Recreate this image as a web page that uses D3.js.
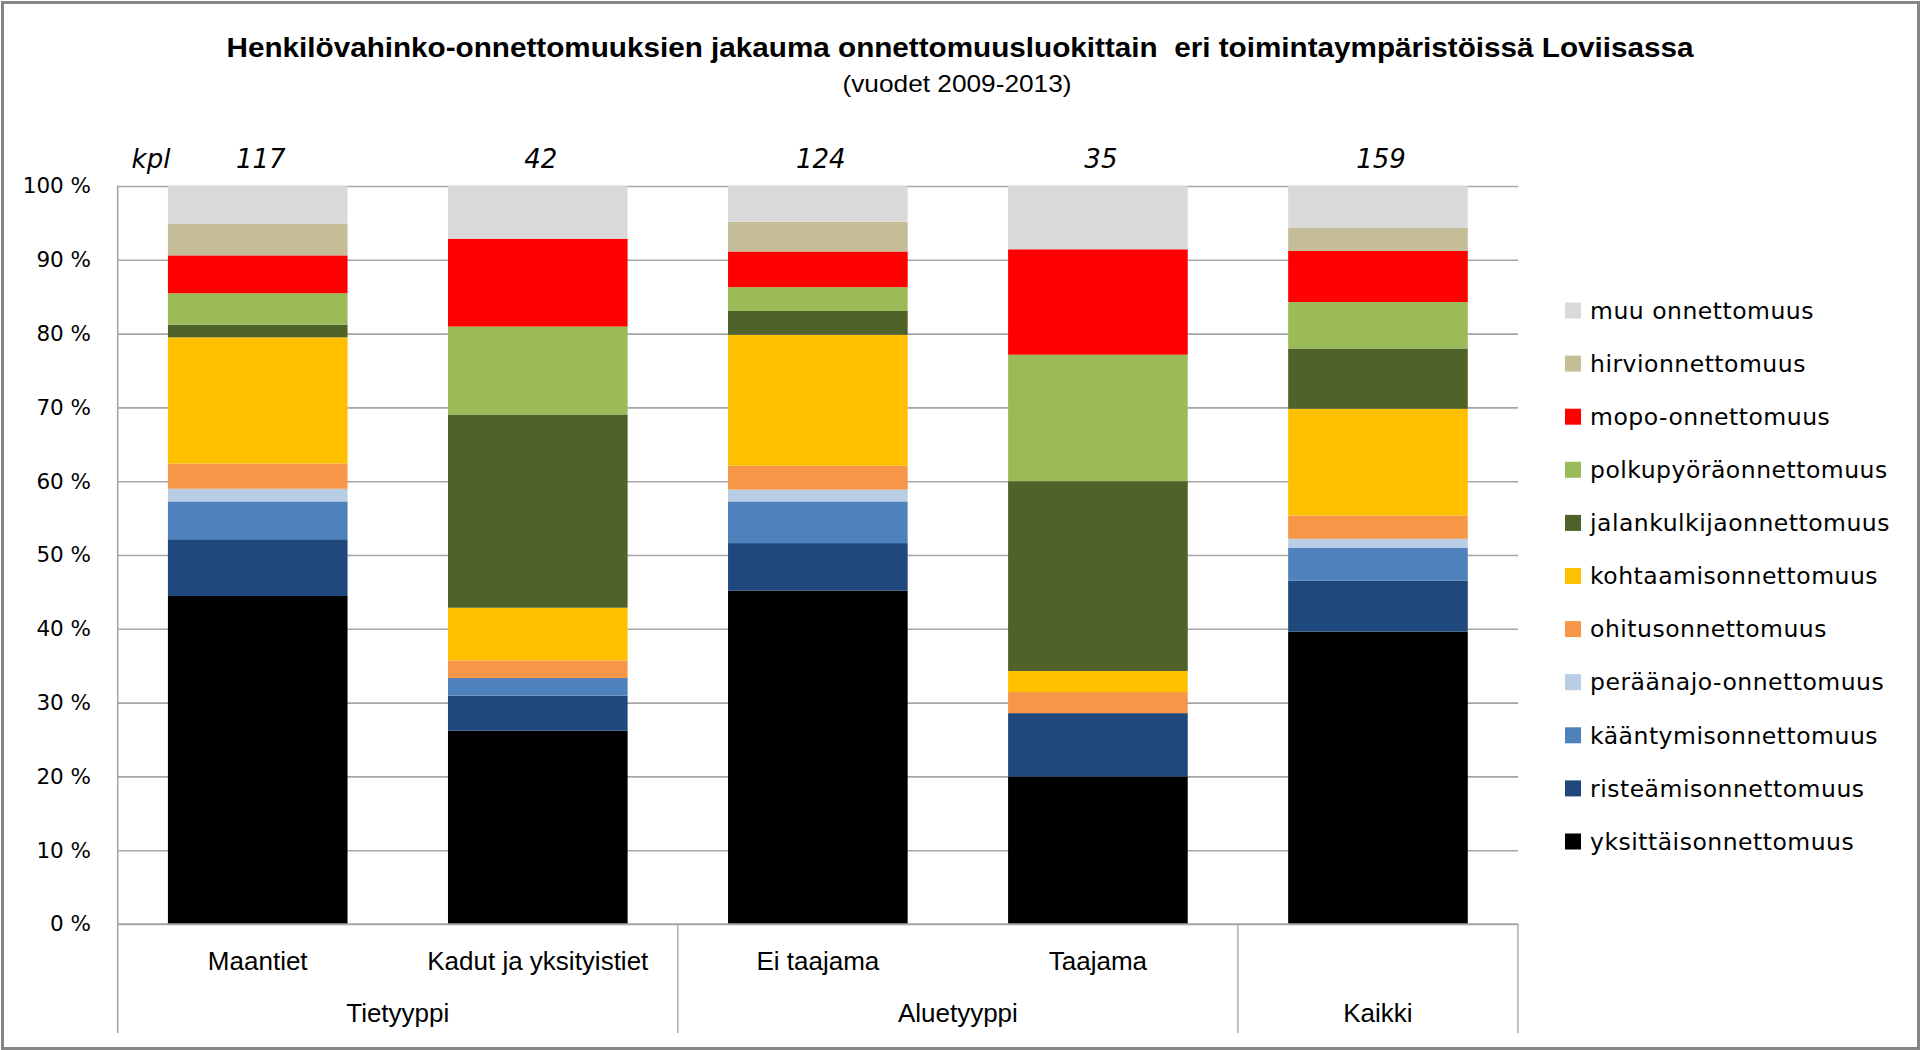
<!DOCTYPE html>
<html>
<head>
<meta charset="utf-8">
<script src="https://cdn.jsdelivr.net/npm/d3@7"></script>
<style>
  html, body { margin: 0; padding: 0; background: #ffffff; overflow: hidden; }
  svg { display: block; }
</style>
</head>
<body>
<svg id="chart" width="1920" height="1050"></svg>
<script>
// ---------------- DATA ----------------
const categories = ["Maantiet", "Kadut ja yksityistiet", "Ei taajama", "Taajama", "Kaikki"];
const categoryLabels = ["Maantiet", "Kadut ja yksityistiet", "Ei taajama", "Taajama", ""];
const categoryGroup = ["Tietyyppi", "Tietyyppi", "Aluetyyppi", "Aluetyyppi", "Kaikki"];
const groupNames = ["Tietyyppi", "Aluetyyppi", "Kaikki"];
const kplLabels = ["117", "42", "124", "35", "159"];

// number of accidents per class (stacked bottom -> top)
const yksittaisonnettomuus   = [52, 11, 56, 7, 63];
const risteamisonnettomuus   = [9, 2, 8, 3, 11];
const kaantymisonnettomuus   = [6, 1, 7, 0, 7];
const peraanajoOnnettomuus   = [2, 0, 2, 0, 2];
const ohitusonnettomuus      = [4, 1, 4, 1, 5];
const kohtaamisonnettomuus   = [20, 3, 22, 1, 23];
const jalankulkijaonnettomuus= [2, 11, 4, 9, 13];
const polkupyoraonnettomuus  = [5, 5, 4, 6, 10];
const mopoOnnettomuus        = [6, 5, 6, 5, 11];
const hirvionnettomuus       = [5, 0, 5, 0, 5];
const muuOnnettomuus         = [6, 3, 6, 3, 9];

const seriesNames = ["yksittäisonnettomuus", "risteämisonnettomuus", "kääntymisonnettomuus",
  "peräänajo-onnettomuus", "ohitusonnettomuus", "kohtaamisonnettomuus", "jalankulkijaonnettomuus",
  "polkupyöräonnettomuus", "mopo-onnettomuus", "hirvionnettomuus", "muu onnettomuus"];
const seriesValues = [yksittaisonnettomuus, risteamisonnettomuus, kaantymisonnettomuus,
  peraanajoOnnettomuus, ohitusonnettomuus, kohtaamisonnettomuus, jalankulkijaonnettomuus,
  polkupyoraonnettomuus, mopoOnnettomuus, hirvionnettomuus, muuOnnettomuus];
const seriesColors = ["#000000", "#1F497D", "#4F81BD", "#B9CDE5", "#F79646", "#FFC000",
  "#4F6228", "#9BBB59", "#FF0000", "#C4BD97", "#D9D9D9"];

const yTickValues = [0, 0.1, 0.2, 0.3, 0.4, 0.5, 0.6, 0.7, 0.8, 0.9, 1];
const yTickLabels = ["0 %", "10 %", "20 %", "30 %", "40 %", "50 %", "60 %", "70 %", "80 %", "90 %", "100 %"];

const titleText = "Henkilövahinko-onnettomuuksien jakauma onnettomuusluokittain  eri toimintaympäristöissä Loviisassa";
const subtitleText = "(vuodet 2009-2013)";

// ---------------- LAYOUT ----------------
const W = 1920, H = 1050;
const plotLeft = 117.7, plotRight = 1518, plotTop = 186, plotBottom = 924;
const catAxisBottom = 1033;
const gridColor = "#a6a6a6";
const calibriLike = "'Liberation Sans', Arial, sans-serif";
const verdanaLike = "'DejaVu Sans', Verdana, sans-serif";

const svg = d3.select("#chart");

// outer border
svg.append("rect")
  .attr("x", 2.5).attr("y", 2.5).attr("width", W - 4).attr("height", H - 4)
  .attr("fill", "#ffffff").attr("stroke", "#868686").attr("stroke-width", 3);

// table of rows for stacking
const table = categories.map((c, i) => {
  const row = { category: c };
  seriesNames.forEach((s, j) => { row[s] = seriesValues[j][i]; });
  return row;
});
const stacked = d3.stack().keys(seriesNames).offset(d3.stackOffsetExpand)(table);

const x = d3.scaleBand().domain(categories)
  .range([plotLeft, plotRight]).paddingInner(0.3586).paddingOuter(0.1793);
const y = d3.scaleLinear().domain([0, 1]).range([plotBottom, plotTop]);
const color = d3.scaleOrdinal().domain(seriesNames).range(seriesColors);

// gridlines + y labels
const yAxis = d3.axisLeft(y)
  .tickValues(yTickValues)
  .tickSize(-(plotRight - plotLeft))
  .tickPadding(26.7)
  .tickFormat((d, i) => yTickLabels[i]);
const gy = svg.append("g").attr("transform", `translate(${plotLeft},0)`).call(yAxis);
gy.select(".domain").remove();
gy.selectAll(".tick line").attr("stroke", gridColor).attr("stroke-width", 1.6);
gy.selectAll(".tick text")
  .attr("font-family", verdanaLike).attr("font-size", 21.5).attr("fill", "#000");

// bars
const layers = svg.append("g").selectAll("g").data(stacked).join("g")
  .attr("fill", d => color(d.key));
layers.selectAll("rect").data(d => d).join("rect")
  .attr("x", d => x(d.data.category))
  .attr("width", x.bandwidth())
  .attr("y", d => y(d[1]))
  .attr("height", d => Math.max(0, y(d[0]) - y(d[1])));

// axis lines
svg.append("line").attr("x1", plotLeft).attr("x2", plotLeft)
  .attr("y1", plotTop).attr("y2", catAxisBottom)
  .attr("stroke", gridColor).attr("stroke-width", 1.6);
svg.append("line").attr("x1", plotLeft).attr("x2", plotRight)
  .attr("y1", plotBottom).attr("y2", plotBottom)
  .attr("stroke", gridColor).attr("stroke-width", 1.6);

// category labels
const xAxis = d3.axisBottom(x).tickSize(0).tickPadding(0)
  .tickFormat((d, i) => categoryLabels[i]);
const gx = svg.append("g").attr("transform", `translate(0,${plotBottom})`).call(xAxis);
gx.select(".domain").remove();
gx.selectAll(".tick text")
  .attr("dy", null)
  .attr("y", 970 - plotBottom)
  .attr("font-family", calibriLike).attr("font-size", 26).attr("fill", "#000");

// group separators and group labels
const half = (x.step() - x.bandwidth()) / 2;
const groupSpans = groupNames.map(g => {
  const members = categories.filter((c, i) => categoryGroup[i] === g);
  const x0 = x(members[0]) - half;
  const x1 = x(members[members.length - 1]) + x.bandwidth() + half;
  return { name: g, x0, x1 };
});
groupSpans.forEach(gs => {
  svg.append("line").attr("x1", gs.x1).attr("x2", gs.x1)
    .attr("y1", plotBottom).attr("y2", catAxisBottom)
    .attr("stroke", gridColor).attr("stroke-width", 1.4);
  svg.append("text").attr("x", (gs.x0 + gs.x1) / 2).attr("y", 1022)
    .attr("text-anchor", "middle")
    .attr("font-family", calibriLike).attr("font-size", 26).attr("fill", "#000")
    .text(gs.name);
});

// kpl row
svg.append("text").attr("x", 151).attr("y", 168).attr("text-anchor", "middle")
  .attr("font-family", verdanaLike).attr("font-style", "italic").attr("font-size", 26)
  .text("kpl");
svg.append("g").selectAll("text").data(categories).join("text")
  .attr("x", d => x(d) + x.bandwidth() / 2 + 3)
  .attr("y", 168)
  .attr("text-anchor", "middle")
  .attr("font-family", verdanaLike).attr("font-style", "italic").attr("font-size", 26)
  .text((d, i) => kplLabels[i]);

// title
svg.append("text").attr("x", 960).attr("y", 57).attr("text-anchor", "middle")
  .attr("font-family", calibriLike).attr("font-weight", "bold").attr("font-size", 28)
  .attr("textLength", 1467).attr("lengthAdjust", "spacingAndGlyphs")
  .style("white-space", "pre")
  .text(titleText);
svg.append("text").attr("x", 957).attr("y", 92).attr("text-anchor", "middle")
  .attr("font-family", calibriLike).attr("font-size", 24)
  .attr("textLength", 229).attr("lengthAdjust", "spacingAndGlyphs")
  .text(subtitleText);

// legend (top to bottom: reverse of stack order)
const legendKeys = seriesNames.slice().reverse();
const legend = svg.append("g");
const legendItems = legend.selectAll("g").data(legendKeys).join("g")
  .attr("transform", (d, i) => `translate(1565,${310.5 + i * 53.1})`);
legendItems.append("rect")
  .attr("x", 0).attr("y", -8).attr("width", 16).attr("height", 16)
  .attr("fill", d => color(d));
legendItems.append("text")
  .attr("x", 25).attr("y", 0).attr("dy", "0.35em")
  .attr("font-family", verdanaLike).attr("font-size", 23.5).attr("letter-spacing", 0.5)
  .attr("fill", "#000")
  .text(d => d);
</script>
</body>
</html>
